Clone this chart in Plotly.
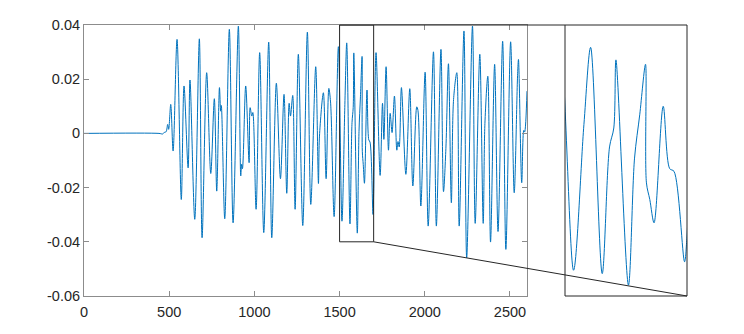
import plotly.graph_objects as go

# signal samples (x = sample index, y = amplitude) at extrema / kinks
sig_x = [0, 440, 462, 472, 482, 491, 497, 509, 523, 546, 571, 587, 611, 622, 650, 677, 693,
         720, 744, 765, 779, 795, 802, 806, 826, 853, 875, 906, 920, 925, 930, 949, 969,
         975, 985, 991, 1010, 1031, 1055, 1084, 1102, 1129, 1153, 1174, 1190, 1204, 1212,
         1225, 1239, 1258, 1284, 1311, 1331, 1360, 1376, 1382, 1405, 1421, 1437, 1447,
         1468, 1493, 1514, 1531, 1542, 1561, 1573, 1580, 1583.5, 1604, 1614, 1622.5, 1632,
         1633.5, 1639, 1646, 1661, 1671.6, 1678.7, 1696, 1700, 1714, 1738, 1752, 1760,
         1773, 1787, 1797, 1808, 1822, 1836, 1843, 1850, 1863, 1889, 1912, 1930, 1953,
         1960, 1977, 2002, 2020, 2051, 2068, 2095, 2110, 2124, 2139, 2156, 2169, 2188,
         2202, 2230, 2246, 2280, 2296, 2323, 2343, 2353, 2370, 2386, 2410, 2430, 2457,
         2476, 2504, 2525, 2545, 2550, 2569, 2581, 2586, 2600]
sig_y = [0, 0, -0.0002, 0.0004, 0.0006, 0.0033, 0.0015, 0.0107, -0.0065, 0.0347, -0.0244,
         0.0175, -0.0127, 0.0197, -0.0317, 0.0349, -0.0385, 0.0224, -0.0148, 0.0128,
         -0.0213, 0.0169, 0.0082, 0.0103, -0.0315, 0.0384, -0.033, 0.0396, -0.0157,
         -0.0114, -0.013, 0.0175, -0.0108, 0.0095, 0.0064, 0.0077, -0.028, 0.0298,
         -0.0366, 0.0337, -0.0385, 0.0185, -0.0167, 0.0144, -0.0221, 0.0111, 0.0064,
         0.014, -0.028, 0.0292, -0.034, 0.0374, -0.0262, 0.0246, -0.0185, -0.001, 0.015,
         -0.0167, 0.0166, 0.0116, -0.0307, 0.032, -0.0324, 0.0106, 0.0334, -0.0334,
         0.004, 0.0096, 0.0297, -0.0368, 0.0007, 0.0135, 0.0284, -0.0066, -0.0115,
         -0.0184, 0.016, -0.0024, -0.0032, -0.0299, -0.0223, 0.0298, -0.0155, 0.0111,
         -0.0022, 0.0246, -0.0062, 0.0074, 0.0003, 0.0138, -0.0062, -0.003, -0.005,
         0.0169, -0.0151, 0.0165, -0.0194, 0.0098, 0.0085, -0.0268, 0.0226, -0.0342,
         0.0301, -0.0342, 0.031, -0.0215, -0.0055, 0.0257, -0.0256, 0.0125, 0.0224,
         -0.0342, 0.0378, -0.0459, 0.0396, -0.0332, 0.0292, -0.0332, 0.0037, 0.0211,
         -0.0401, 0.0255, -0.0362, 0.034, -0.0428, 0.0338, -0.0219, 0.022, 0.0273,
         -0.0182, 0.0011, 0.0005, 0.0156]

x_ticks = [0, 500, 1000, 1500, 2000, 2500]
y_ticks = [-0.06, -0.04, -0.02, 0, 0.02, 0.04]
y_tick_text = ["-0.06", "-0.04", "-0.02", "0", "0.02", "0.04"]

main_xrange = [0, 2600]
main_yrange = [-0.06, 0.04]
zoom_xrange = [1500, 1700]
zoom_yrange = [-0.04, 0.04]

W, H = 744, 334
main_dom_x = [84 / W, 527 / W]
zoom_dom_x = [565 / W, 687 / W]
dom_y = [1 - 296 / H, 1 - 25 / H]

line_col = "#0072BD"
box_col = "#262626"
axis_col = "#8c8c8c"
font = dict(family="Liberation Sans, Arial, sans-serif", size=14.5, color="#262626")

fig = go.Figure()

# main signal and the zoomed copy
fig.add_trace(go.Scatter(x=sig_x, y=sig_y, mode="lines", line=dict(color=line_col, width=1,
                         shape="spline", smoothing=0.9), xaxis="x", yaxis="y",
                         showlegend=False, hoverinfo="skip"))
fig.add_trace(go.Scatter(x=sig_x, y=sig_y, mode="lines", line=dict(color=line_col, width=1,
                         shape="spline", smoothing=0.9), xaxis="x2", yaxis="y2",
                         showlegend=False, hoverinfo="skip"))


def to_paper(v, rng, dom):
    return dom[0] + (v - rng[0]) / (rng[1] - rng[0]) * (dom[1] - dom[0])


shapes = [
    # zoom rectangle on the main axes
    dict(type="rect", xref="x", yref="y", x0=zoom_xrange[0], x1=zoom_xrange[1],
         y0=zoom_yrange[0], y1=zoom_yrange[1], line=dict(color=box_col, width=1)),
    # connectors from the rectangle to the inset
    dict(type="line", xref="paper", yref="paper",
         x0=to_paper(zoom_xrange[1], main_xrange, main_dom_x),
         y0=to_paper(zoom_yrange[0], main_yrange, dom_y),
         x1=zoom_dom_x[1], y1=dom_y[0], line=dict(color=box_col, width=1)),
    dict(type="line", xref="paper", yref="paper",
         x0=to_paper(zoom_xrange[0], main_xrange, main_dom_x),
         y0=to_paper(zoom_yrange[1], main_yrange, dom_y),
         x1=zoom_dom_x[0], y1=dom_y[1], line=dict(color=box_col, width=1)),
    # inset frame
    dict(type="rect", xref="paper", yref="paper", x0=zoom_dom_x[0], x1=zoom_dom_x[1],
         y0=dom_y[0], y1=dom_y[1], line=dict(color=box_col, width=1)),
]

fig.update_layout(
    template="none",
    width=W, height=H,
    margin=dict(l=0, r=0, t=0, b=0, pad=0),
    paper_bgcolor="white", plot_bgcolor="white",
    font=font,
    shapes=shapes,
    xaxis=dict(domain=main_dom_x, range=main_xrange, tickvals=x_ticks, automargin=False,
               ticks="inside", ticklen=5, tickcolor=axis_col, showline=True,
               linecolor=axis_col, linewidth=1, mirror="ticks", showgrid=False,
               zeroline=False, tickfont=font, ticklabelstandoff=3),
    yaxis=dict(domain=dom_y, range=main_yrange, tickvals=y_ticks, ticktext=y_tick_text,
               automargin=False,
               ticks="inside", ticklen=5, tickcolor=axis_col, showline=True,
               linecolor=axis_col, linewidth=1, mirror="ticks", showgrid=False,
               zeroline=False, tickfont=font),
    xaxis2=dict(domain=zoom_dom_x, range=zoom_xrange, anchor="y2", showticklabels=False,
                automargin=False, ticks="", showgrid=False, zeroline=False, showline=False),
    yaxis2=dict(domain=dom_y, range=zoom_yrange, anchor="x2", showticklabels=False,
                automargin=False, ticks="", showgrid=False, zeroline=False, showline=False),
)

# drop the browser's default body margin so the figure sits at the page origin
fig.write_html("out.html", config={"displayModeBar": False},
               post_script="document.body.style.margin='0';")
